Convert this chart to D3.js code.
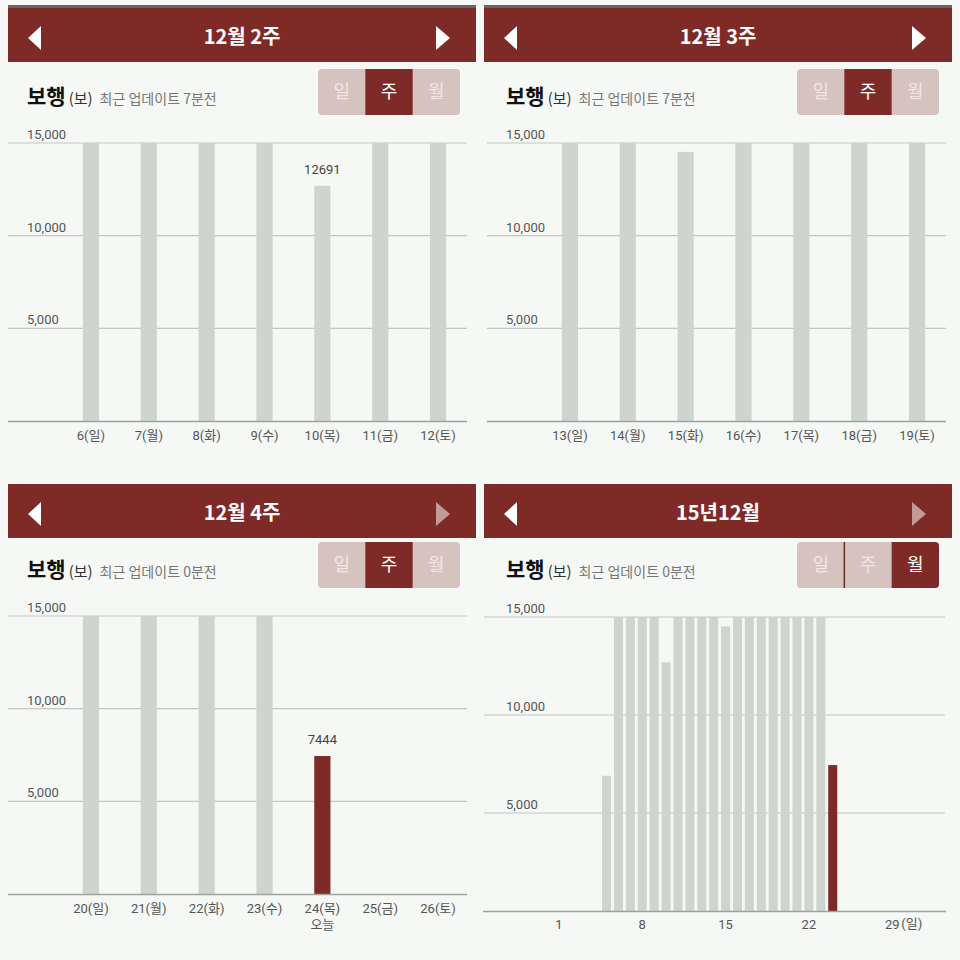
<!DOCTYPE html>
<html><head><meta charset="utf-8">
<script src="https://cdn.jsdelivr.net/npm/d3@7"></script>
<style>
body{margin:0;background:#f5f8f5;}
text{font-family:Roboto,"Noto Sans CJK KR",sans-serif;}
</style></head><body><div id="chart"></div><script>
// weekly data (values above 15,000 are cut off by the chart)
const week2Days = ["6(일)","7(월)","8(화)","9(수)","10(목)","11(금)","12(토)"];
const week2Steps = [15000,15000,15000,15000,12691,15000,15000];
const week3Days = ["13(일)","14(월)","15(화)","16(수)","17(목)","18(금)","19(토)"];
const week3Steps = [15000,15000,14520,15000,15000,15000,15000];
const week4Days = ["20(일)","21(월)","22(화)","23(수)","24(목)","25(금)","26(토)"];
const week4Steps = [15000,15000,15000,15000,7444,0,0];
const monthDays = [1,2,3,4,5,6,7,8,9,10,11,12,13,14,15,16,17,18,19,20,21,22,23,24,25,26,27,28,29,30,31];
const monthSteps = [0,0,0,0,6900,15000,15000,15000,15000,12691,15000,15000,15000,15000,14520,
                    15000,15000,15000,15000,15000,15000,15000,15000,7444,0,0,0,0,0,0,0];
const monthTicks = [1,8,15,22,29];
const yTicks = [5000,10000,15000];
const toggleLabels = ["일","주","월"];

const RED = "#7e2a27", BAR = "#d0d4d0";
const width = 960, height = 960;

const svg = d3.select("#chart").append("svg")
    .attr("width", width).attr("height", height)
    .style("display","block");

function drawHeader(g, title, rightDim, topLine) {
    if (topLine) g.append("rect").attr("x",8).attr("y",5).attr("width",468).attr("height",3).attr("fill","#666");
    g.append("rect").attr("x",8).attr("y",8).attr("width",468).attr("height",54).attr("fill",RED);
    g.append("path").attr("d","M41,26 L28,38 L41,50 Z").attr("fill","#fff");
    g.append("path").attr("d","M436,26 L450,38 L436,50 Z").attr("fill", rightDim ? "#c29b99" : "#fff");
    g.append("text").attr("x",242).attr("y",44).attr("text-anchor","middle")
        .attr("fill","#fff").attr("font-size",20).attr("font-weight",700)
        .style("font-family","'Noto Sans CJK KR'").text(title);
}

function drawSub(g, mins, active, id) {
    const t = g.append("text").attr("x",27).attr("y",104).style("font-family","'Noto Sans CJK KR'");
    t.append("tspan").attr("font-size",21).attr("font-weight",700).attr("fill","#111").text("보행");
    t.append("tspan").attr("font-size",15).attr("fill","#333").attr("dx",3).text("(보)");
    t.append("tspan").attr("font-size",14).attr("fill","#777").attr("dx",7).text("최근 업데이트 " + mins + "분전");

    const bx = 318, by = 69, bw = 142, bh = 46, sw = bw / 3;
    g.append("clipPath").attr("id", id).append("rect")
        .attr("x",bx).attr("y",by).attr("width",bw).attr("height",bh).attr("rx",4);
    const tg = g.append("g").attr("clip-path","url(#" + id + ")");
    tg.append("rect").attr("x",bx).attr("y",by).attr("width",bw).attr("height",bh).attr("fill","#d6c3c0");
    toggleLabels.forEach((lab, i) => {
        if (i === active) tg.append("rect").attr("x",bx + i*sw).attr("y",by).attr("width",sw).attr("height",bh).attr("fill",RED);
        tg.append("text").attr("x",bx + i*sw + sw/2).attr("y",by + bh/2 + 6)
            .attr("text-anchor","middle").attr("font-size",18)
            .style("font-family","'Noto Sans CJK KR'")
            .attr("fill", i === active ? "#fff" : "#f1e6e4").text(lab);
    });
    if (active === 2) tg.append("line").attr("x1",bx+sw).attr("x2",bx+sw).attr("y1",by).attr("y2",by+bh)
        .attr("stroke","#6a2a27").attr("stroke-width",1.5);
}

function yGrid(g, y, x1, x2) {
    g.append("g").selectAll("line").data(yTicks).join("line")
        .attr("x1",x1).attr("x2",x2).attr("y1",d=>y(d)).attr("y2",d=>y(d))
        .attr("stroke","#c3c7c3").attr("stroke-width",1.2);
    g.append("g").selectAll("text").data(yTicks).join("text")
        .attr("x",27).attr("y",d=>y(d)-4).attr("font-size",13).attr("fill","#555")
        .text(d=>d3.format(",")(d));
}

function drawWeek(g, days, steps, highlight, valueLabel, todayIdx) {
    const y = d3.scaleLinear().domain([0,15000]).range([421,143]).clamp(true);
    const x = d3.scaleBand().domain(days).range([62,467]).paddingInner(0.72).paddingOuter(0.36);
    yGrid(g, y, 8, 467);
    g.selectAll("rect.bar").data(days).join("rect").attr("class","bar")
        .attr("x",d=>x(d)).attr("width",x.bandwidth())
        .attr("y",(d,i)=>y(steps[i])).attr("height",(d,i)=>y(0)-y(steps[i]))
        .attr("fill",(d,i)=> i === highlight ? RED : BAR);
    if (valueLabel != null) {
        g.append("text").attr("x",x(days[valueLabel]) + x.bandwidth()/2)
            .attr("y",y(steps[valueLabel]) - 12).attr("text-anchor","middle")
            .attr("font-size",13).attr("fill","#444").text(steps[valueLabel]);
    }
    g.append("line").attr("x1",8).attr("x2",467).attr("y1",421.5).attr("y2",421.5)
        .attr("stroke","#9ea29e").attr("stroke-width",1.3);
    const ax = g.append("g").attr("transform","translate(0,421)")
        .call(d3.axisBottom(x).tickSize(0).tickPadding(10));
    ax.select(".domain").remove();
    ax.selectAll("text").attr("font-size",13).attr("fill","#555")
        .style("font-family","Roboto,'Noto Sans CJK KR'");
    if (todayIdx != null) {
        g.append("text").attr("x",x(days[todayIdx]) + x.bandwidth()/2).attr("y",456)
            .attr("text-anchor","middle").attr("font-size",13).attr("fill","#555").text("오늘");
    }
}

function drawMonth(g, days, steps, highlight) {
    const y = d3.scaleLinear().domain([0,15000]).range([438,144]).clamp(true);
    const x = d3.scaleBand().domain(days).range([74,443]).paddingInner(0.24).paddingOuter(0.12);
    yGrid(g, y, 5, 466);
    g.selectAll("rect.bar").data(days).join("rect").attr("class","bar")
        .attr("x",d=>x(d)).attr("width",x.bandwidth())
        .attr("y",(d,i)=>y(steps[i])).attr("height",(d,i)=>y(0)-y(steps[i]))
        .attr("fill",(d,i)=> i === highlight ? RED : BAR);
    g.append("line").attr("x1",4).attr("x2",467).attr("y1",438.5).attr("y2",438.5)
        .attr("stroke","#9ea29e").attr("stroke-width",1.3);
    const ax = g.append("g").attr("transform","translate(0,438)")
        .call(d3.axisBottom(x).tickValues(monthTicks).tickSize(0).tickPadding(9));
    ax.select(".domain").remove();
    ax.selectAll("text").attr("font-size",13).attr("fill","#555");
    g.append("text").attr("x",x(29) + x.bandwidth()/2 + 9).attr("y",455)
        .attr("font-size",13).attr("fill","#555").text("(일)");
}

// top-left
const p1 = svg.append("g");
drawHeader(p1, "12월 2주", false, true);
drawSub(p1, 7, 1, "clip1");
drawWeek(p1, week2Days, week2Steps, -1, 4, null);

// top-right
const p2h = svg.append("g").attr("transform","translate(476,0)");
drawHeader(p2h, "12월 3주", false, true);
const p2 = svg.append("g").attr("transform","translate(479,0)");
drawSub(p2, 7, 1, "clip2");
drawWeek(p2, week3Days, week3Steps, -1, null, null);

// bottom-left
const p3h = svg.append("g").attr("transform","translate(0,476)");
drawHeader(p3h, "12월 4주", true, false);
const p3 = svg.append("g").attr("transform","translate(0,473)");
drawSub(p3, 0, 1, "clip3");
drawWeek(p3, week4Days, week4Steps, 4, 4, 4);

// bottom-right
const p4h = svg.append("g").attr("transform","translate(476,476)");
drawHeader(p4h, "15년12월", true, false);
const p4 = svg.append("g").attr("transform","translate(479,473)");
drawSub(p4, 0, 2, "clip4");
drawMonth(p4, monthDays, monthSteps, 23);
</script></body></html>
